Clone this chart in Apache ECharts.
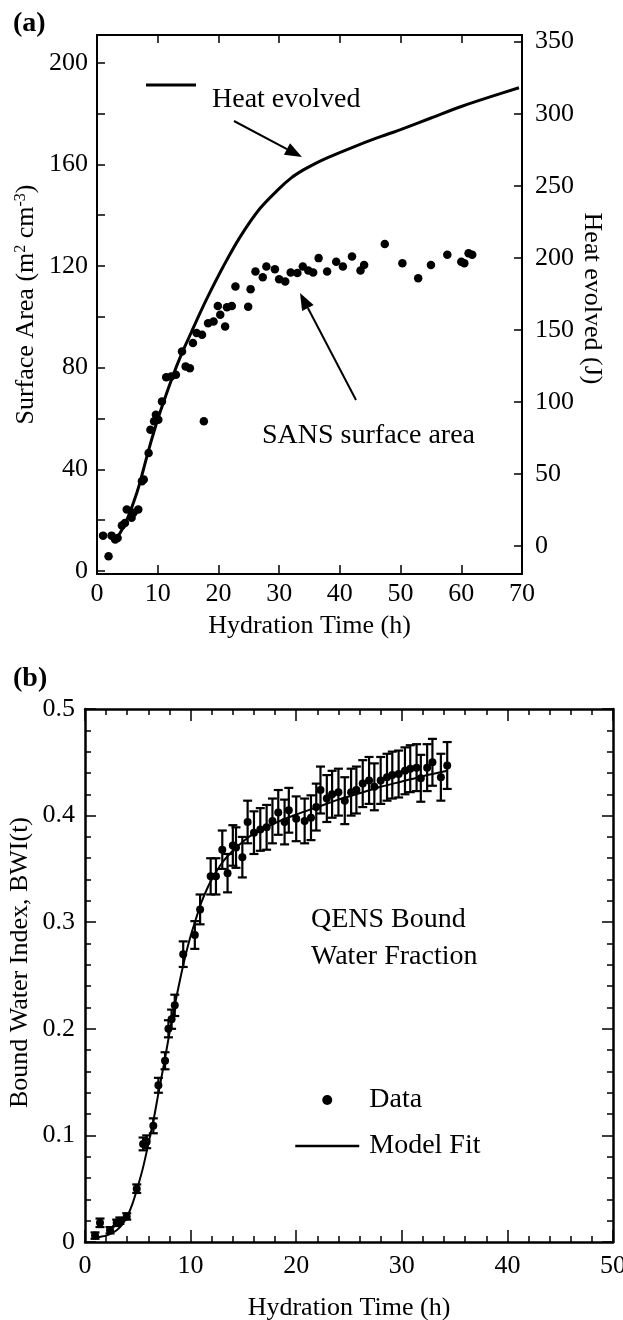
<!DOCTYPE html>
<html><head><meta charset="utf-8">
<script src="https://cdn.jsdelivr.net/npm/echarts@6/dist/echarts.min.js"></script>
<style>html,body{margin:0;padding:0;background:#fff}#c{width:623px;height:1320px}</style>
</head><body><div id="c"></div>
<script>
// ---------- Panel (a) data ----------
const sansTime = [1.0,1.9,2.4,3.0,3.4,4.1,4.6,4.9,5.7,6.0,6.8,7.4,7.7,8.5,8.8,9.4,9.7,10.1,10.7,11.4,12.2,13.0,14.0,14.6,15.3,15.8,16.4,17.3,17.6,18.3,19.2,19.9,20.3,21.1,21.4,22.2,22.8,24.9,25.3,26.1,27.3,27.9,29.3,30.0,31.0,31.9,33.0,33.9,34.8,35.6,36.5,37.9,39.4,40.5,42.0,43.4,44.0,47.4,50.3,52.9,55.0,57.7,60.0,60.5,61.2,61.8];
const sansArea = [13.9,5.8,13.9,12.4,13.0,17.9,18.9,24.2,20.9,22.9,24.2,35.3,36.0,46.4,55.6,58.9,61.5,59.5,66.7,76.2,76.5,77.2,86.4,80.5,79.8,89.7,93.6,92.9,58.9,97.5,98.2,104.3,100.8,96.2,103.8,104.3,111.9,104.0,110.9,117.8,115.6,119.8,118.7,114.8,113.9,117.4,117.2,119.8,118.2,117.4,123.1,117.8,121.7,119.8,123.7,118.2,120.4,128.7,121.1,115.2,120.4,124.4,121.7,121.1,125.0,124.4];
const heatTime = [2.5,3.0,3.8,4.9,6.0,7.0,8.4,9.5,10.4,12.4,14.0,15.5,17.0,18.6,20.8,23.5,26.8,30.0,32.0,34.0,36.0,38.0,42.0,46.0,50.0,55.0,60.0,65.0,69.5];
const heatJ    = [3,5,9,18,30,43,65,81,93,117,134,148,162,176,194,214,234,248,255.5,261,265.5,269.5,276.5,283,289,297,305,312,318];
const aXTicks = [0,10,20,30,40,50,60,70];
const aLeftTicks = [0,20,40,60,80,100,120,140,160,180,200];
const aLeftLabels = [0,40,80,120,160,200];
const aRightTicks = [0,50,100,150,200,250,300,350];

// ---------- Panel (b) data ----------
const bwiTime = [0.95,1.42,2.37,3.0,3.3,3.95,4.9,5.5,5.84,6.47,6.95,7.58,7.9,8.2,8.5,9.3,10.4,10.9,11.9,12.4,13.0,13.5,14.0,14.3,14.9,15.4,16.0,16.6,17.2,17.75,18.3,18.9,19.3,20.0,20.8,21.4,21.9,22.3,22.9,23.4,24.0,24.6,25.2,25.7,26.3,26.9,27.4,28.0,28.6,29.1,29.7,30.3,30.8,31.4,31.8,32.4,32.9,33.7,34.3];
const bwiValue = [0.006,0.018,0.011,0.018,0.020,0.024,0.050,0.092,0.094,0.109,0.147,0.170,0.200,0.209,0.222,0.270,0.288,0.312,0.343,0.343,0.368,0.346,0.372,0.370,0.361,0.394,0.384,0.387,0.389,0.395,0.403,0.394,0.405,0.397,0.395,0.398,0.408,0.424,0.416,0.420,0.422,0.414,0.422,0.424,0.430,0.433,0.427,0.433,0.436,0.438,0.439,0.442,0.444,0.445,0.435,0.445,0.450,0.436,0.447];
const bwiErr = [0.003,0.004,0.003,0.003,0.003,0.003,
  0.004,0.006,0.006,0.007,0.007,0.008,0.008,0.009,0.010,
  0.012,0.013,0.014,0.017,0.017,0.018,0.018,0.019,0.019,0.019,
  0.020,0.020,0.020,0.021,0.021,0.021,0.021,0.021,0.021,0.021,0.021,0.022,0.022,0.022,0.022,0.022,0.022,0.022,0.022,0.022,0.022,0.022,0.022,0.022,0.022,0.022,0.022,0.022,0.022,0.022,0.022,0.022,0.022,0.022];
const fitTime  = [0.8,1.5,2.0,2.5,3.0,3.5,4.0,4.5,5.0,5.5,6.0,6.5,7.0,7.5,8.0,8.5,9.0,9.5,10.0,10.5,11.0,11.5,12.0,13.0,14.0,15.0,16.0,18.0,20.0,22.0,24.0,26.0,28.0,30.0,32.0,34.3];
const fitValue = [0.004,0.005,0.006,0.008,0.011,0.016,0.024,0.036,0.052,0.070,0.092,0.115,0.142,0.168,0.196,0.222,0.246,0.268,0.287,0.303,0.318,0.330,0.340,0.356,0.367,0.376,0.383,0.393,0.401,0.408,0.415,0.421,0.427,0.432,0.437,0.442];
const bXTicks = [0,10,20,30,40,50];
const bYTicks = [0,0.1,0.2,0.3,0.4,0.5];

// ---------- helpers ----------
const FONT = "'Liberation Serif','Times New Roman',serif";
const BLACK = '#000';
const zip = (a, b) => a.map((v, i) => [v, b[i]]);
const lbl = (size, margin) => ({fontFamily: FONT, fontSize: size, color: BLACK, margin: margin});
const axLine = (w) => ({show: true, onZero: false, lineStyle: {color: BLACK, width: w}});

function arrowEls(x1, y1, x2, y2) {
  const dx = x2 - x1, dy = y2 - y1, L = Math.hypot(dx, dy), ux = dx / L, uy = dy / L;
  const hl = 17, hw = 6.5;
  const bx = x2 - ux * hl, by = y2 - uy * hl;
  return [
    {type: 'line', shape: {x1: x1, y1: y1, x2: bx, y2: by}, style: {stroke: BLACK, lineWidth: 2}},
    {type: 'polygon', shape: {points: [[x2, y2], [bx - uy * hw, by + ux * hw], [bx + uy * hw, by - ux * hw]]}, style: {fill: BLACK}}
  ];
}
function txt(x, y, s, size, bold) {
  return {type: 'text', x: x, y: y, style: {text: s, fontFamily: FONT, fontSize: size, fontWeight: bold ? 'bold' : 'normal', fill: BLACK, verticalAlign: 'middle', align: 'left'}};
}

const chart = echarts.init(document.getElementById('c'), null, {renderer: 'canvas'});

const option = {
  animation: false,
  backgroundColor: '#fff',
  grid: [
    {left: 97, top: 35, width: 425, height: 539, outerBoundsMode: 'none', containLabel: false},
    {left: 85, top: 709, width: 528, height: 533, outerBoundsMode: 'none', containLabel: false}
  ],
  xAxis: [
    {gridIndex: 0, type: 'value', min: 0, max: 70, interval: 10, position: 'bottom',
      axisLine: axLine(2), axisTick: {show: true, inside: true, length: 9, lineStyle: {color: BLACK, width: 1.5}},
      axisLabel: lbl(26, 7), splitLine: {show: false},
      name: 'Hydration Time (h)', nameLocation: 'middle', nameGap: 39, nameMoveOverlap: false,
      nameTextStyle: {fontFamily: FONT, fontSize: 26, color: BLACK}},
    {gridIndex: 0, type: 'value', min: 0, max: 70, interval: 10, position: 'top',
      axisLine: axLine(2), axisTick: {show: true, inside: true, length: 8, lineStyle: {color: BLACK, width: 1.5}},
      axisLabel: {show: false}, splitLine: {show: false}},
    {gridIndex: 1, type: 'value', min: 0, max: 50, interval: 10, position: 'bottom',
      axisLine: axLine(2.5), axisTick: {show: true, inside: true, length: 12, lineStyle: {color: BLACK, width: 1.5}},
      minorTick: {show: true, splitNumber: 5, length: 6, lineStyle: {color: BLACK, width: 1.5}},
      axisLabel: lbl(26, 11), splitLine: {show: false}, minorSplitLine: {show: false},
      name: 'Hydration Time (h)', nameLocation: 'middle', nameGap: 53, nameMoveOverlap: false,
      nameTextStyle: {fontFamily: FONT, fontSize: 26, color: BLACK}},
    {gridIndex: 1, type: 'value', min: 0, max: 50, interval: 10, position: 'top',
      axisLine: axLine(2.5), axisTick: {show: true, inside: true, length: 12, lineStyle: {color: BLACK, width: 1.5}},
      minorTick: {show: true, splitNumber: 5, length: 6, lineStyle: {color: BLACK, width: 1.5}},
      axisLabel: {show: false}, splitLine: {show: false}, minorSplitLine: {show: false}}
  ],
  yAxis: [
    {gridIndex: 0, type: 'value', min: -1.2, max: 210.9, position: 'left',
      axisLine: axLine(2),
      axisTick: {show: true, inside: true, length: 8, customValues: aLeftTicks, lineStyle: {color: BLACK, width: 1.5}},
      axisLabel: Object.assign(lbl(26, 9), {customValues: aLeftLabels}), splitLine: {show: false},
      name: 'Surface Area (m{sup|2} cm{sup|-3})', nameLocation: 'middle', nameGap: 58, nameMoveOverlap: false,
      nameTextStyle: {fontFamily: FONT, fontSize: 26, color: BLACK,
        rich: {sup: {fontFamily: FONT, fontSize: 16, color: BLACK, verticalAlign: 'top', lineHeight: 16}}}},
    {gridIndex: 0, type: 'value', min: -19.4, max: 354.6, position: 'right',
      axisLine: axLine(2),
      axisTick: {show: true, inside: true, length: 8, customValues: aRightTicks, lineStyle: {color: BLACK, width: 1.5}},
      axisLabel: Object.assign(lbl(26, 13), {customValues: aRightTicks}), splitLine: {show: false},
      name: 'Heat evolved (J)', nameLocation: 'middle', nameGap: 57, nameRotate: -90, nameMoveOverlap: false,
      nameTextStyle: {fontFamily: FONT, fontSize: 26, color: BLACK, padding: [0, 12, 0, 0]}},
    {gridIndex: 1, type: 'value', min: 0, max: 0.5, interval: 0.1, position: 'left',
      axisLine: axLine(2.5),
      axisTick: {show: true, inside: true, length: 11, lineStyle: {color: BLACK, width: 1.5}},
      minorTick: {show: true, splitNumber: 5, length: 6, lineStyle: {color: BLACK, width: 1.5}},
      axisLabel: lbl(26, 10), splitLine: {show: false}, minorSplitLine: {show: false},
      name: 'Bound Water Index, BWI(t)', nameLocation: 'middle', nameGap: 52, nameMoveOverlap: false,
      nameTextStyle: {fontFamily: FONT, fontSize: 26, color: BLACK, padding: [0, 0, 0, 26]}},
    {gridIndex: 1, type: 'value', min: 0, max: 0.5, interval: 0.1, position: 'right',
      axisLine: axLine(2.5),
      axisTick: {show: true, inside: true, length: 11, lineStyle: {color: BLACK, width: 1.5}},
      minorTick: {show: true, splitNumber: 5, length: 6, lineStyle: {color: BLACK, width: 1.5}},
      axisLabel: {show: false}, splitLine: {show: false}, minorSplitLine: {show: false}}
  ],
  legend: {
    show: true, orient: 'vertical', left: 294, top: 1086, itemWidth: 64, itemHeight: 10, itemGap: 18,
    padding: 0, selectedMode: false,
    data: [
      {name: 'Data', icon: 'circle', itemStyle: {color: BLACK, opacity: 1}},
      {name: 'Model Fit', itemStyle: {opacity: 0}, lineStyle: {color: BLACK, width: 2.5, opacity: 1}}
    ],
    textStyle: {fontFamily: FONT, fontSize: 28, color: BLACK, lineHeight: 28, padding: [0, 0, 0, 5]}
  },
  series: [
    {name: 'Heat evolved', type: 'line', xAxisIndex: 0, yAxisIndex: 1, data: zip(heatTime, heatJ),
      smooth: 0.3, symbol: 'none', lineStyle: {color: BLACK, width: 3}, z: 3},
    {name: 'SANS surface area', type: 'scatter', xAxisIndex: 0, yAxisIndex: 0, data: zip(sansTime, sansArea),
      symbol: 'circle', symbolSize: 8.5, itemStyle: {color: BLACK, opacity: 1}, z: 4},
    {name: 'Error', type: 'custom', xAxisIndex: 2, yAxisIndex: 2,
      data: bwiTime.map((t, i) => [t, bwiValue[i], bwiErr[i]]),
      encode: {x: 0, y: 1},
      renderItem: function (params, api) {
        const x = api.value(0), y = api.value(1), e = api.value(2);
        const hi = api.coord([x, y + e]);
        const lo = api.coord([x, y - e]);
        const w = 4.5;
        const st = {stroke: BLACK, lineWidth: 2.2, fill: null};
        return {type: 'group', children: [
          {type: 'line', shape: {x1: hi[0], y1: hi[1], x2: lo[0], y2: lo[1]}, style: st},
          {type: 'line', shape: {x1: hi[0] - w, y1: hi[1], x2: hi[0] + w, y2: hi[1]}, style: st},
          {type: 'line', shape: {x1: lo[0] - w, y1: lo[1], x2: lo[0] + w, y2: lo[1]}, style: st}
        ]};
      }, z: 2},
    {name: 'Model Fit', type: 'line', xAxisIndex: 2, yAxisIndex: 2, data: zip(fitTime, fitValue),
      smooth: 0.3, symbol: 'none', lineStyle: {color: BLACK, width: 2}, itemStyle: {color: BLACK}, z: 3},
    {name: 'Data', type: 'scatter', xAxisIndex: 2, yAxisIndex: 2, data: zip(bwiTime, bwiValue),
      symbol: 'circle', symbolSize: 8, itemStyle: {color: BLACK, opacity: 1}, z: 4}
  ],
  graphic: [].concat(
    [txt(13, 24, '(a)', 28, true), txt(13, 679, '(b)', 28, true)],
    [{type: 'line', shape: {x1: 146, y1: 85, x2: 196, y2: 85}, style: {stroke: BLACK, lineWidth: 3}}],
    [txt(212, 100, 'Heat evolved', 28)],
    arrowEls(234, 121, 302, 157),
    [txt(262, 436, 'SANS surface area', 28)],
    arrowEls(356, 400, 300, 293),
    [txt(311, 920, 'QENS Bound', 28), txt(311, 957, 'Water Fraction', 28)]
  )
};
chart.setOption(option);
</script>
</body></html>
